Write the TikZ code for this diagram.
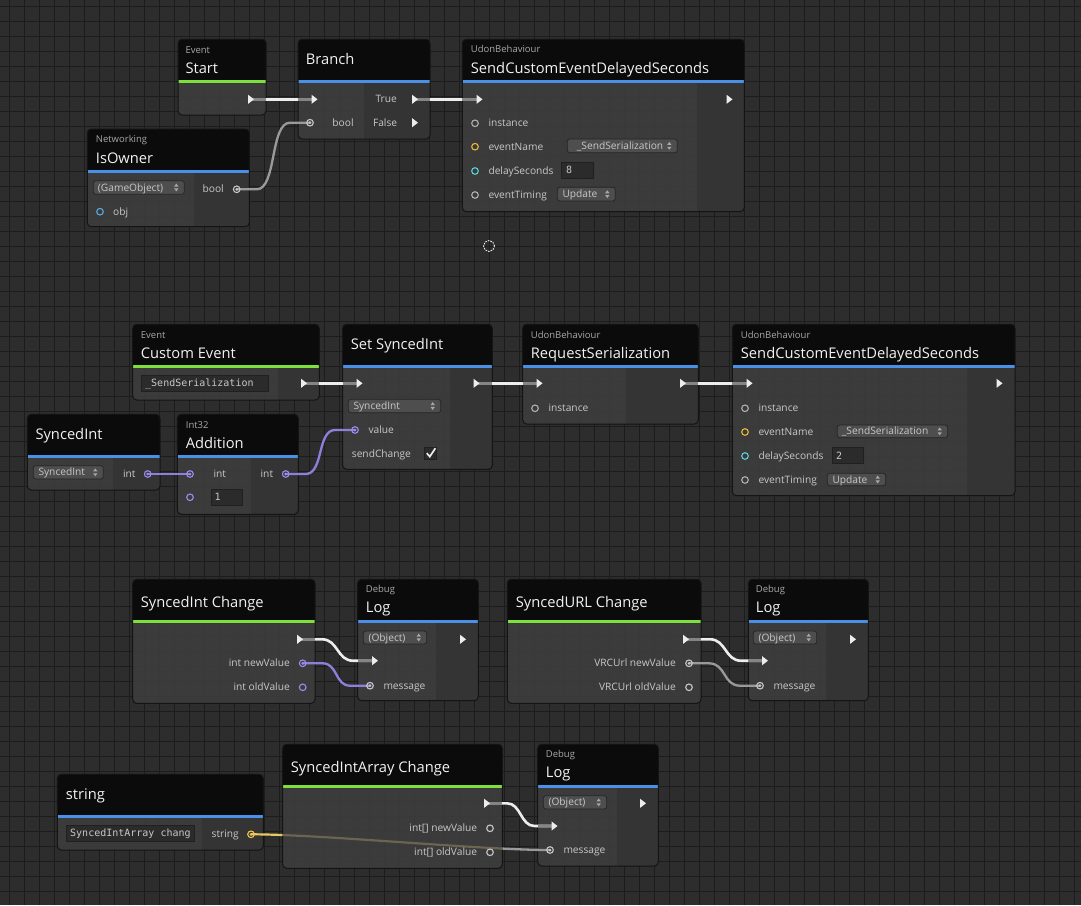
\documentclass[tikz,border=0pt]{standalone}
\usepackage{fontspec}
\setmainfont{Open Sans}
\newfontfamily\monof{DejaVu Sans Mono}
\usetikzlibrary{calc}
\definecolor{bgc}{HTML}{2D2D2D}
\definecolor{gridc}{HTML}{1C1C1C}
\definecolor{headc}{HTML}{0B0B0B}
\definecolor{bodyc}{HTML}{3D3D3D}
\definecolor{rightc}{HTML}{343434}
\definecolor{bordc}{HTML}{141414}
\definecolor{evgreen}{HTML}{7EE03C}
\definecolor{nodeblue}{HTML}{4A90E6}
\definecolor{titlec}{HTML}{F2F2F2}
\definecolor{subc}{HTML}{A8A8A8}
\definecolor{labc}{HTML}{C8C8C8}
\definecolor{flowc}{HTML}{EDEDED}
\definecolor{stubc}{HTML}{858585}
\definecolor{greyw}{HTML}{9A9A9A}
\definecolor{purw}{HTML}{8E80DA}
\definecolor{purp}{HTML}{9C8CF0}
\definecolor{yelp}{HTML}{F0C850}
\definecolor{orap}{HTML}{E8B838}
\definecolor{cyanp}{HTML}{5CCFD8}
\definecolor{bluep}{HTML}{5AA8E0}
\definecolor{greyp}{HTML}{B0B0B0}
\definecolor{whitep}{HTML}{C8C8C8}
\definecolor{ddfill}{HTML}{4E4E4E}
\definecolor{ddline}{HTML}{262626}
\definecolor{tffill}{HTML}{2B2B2B}
\definecolor{tfline}{HTML}{202020}
\definecolor{olivew}{HTML}{6B6450}
\definecolor{yelw}{HTML}{E8C860}
\newcount\autonum
\tikzset{
  autoname/.code={\global\advance\autonum by 1\relax\pgfkeysalso{name={t\the\autonum}}},
  ttl/.style={autoname, text=titlec, font=\fontsize{14.7}{16}\selectfont, inner sep=0pt, anchor=base west},
  sub/.style={autoname, text=subc, font=\fontsize{9.5}{11}\selectfont, inner sep=0pt, anchor=base west},
  lab/.style={autoname, text=labc, font=\fontsize{10.2}{12}\selectfont, inner sep=0pt, anchor=base west},
  labr/.style={lab, anchor=base east},
  tft/.style={autoname, text=labc, font=\monof\fontsize{10}{12}\selectfont, inner sep=0pt, anchor=base west},
  dd/.style={fill=ddfill, draw=ddline, line width=.8pt, rounded corners=2.5pt},
  tf/.style={fill=tffill, draw=tfline, line width=.8pt},
  flowwire/.style={draw=flowc, line width=2.6pt},
  stub/.style={draw=stubc, line width=2.6pt},
  gwire/.style={draw=greyw, line width=2.3pt},
  pwire/.style={draw=purw, line width=2.3pt},
  gridline/.style={draw=gridc, line width=1pt},
}
% node frame: name, x1, y1, x2, y2, bar top, split x, bar colour
\newcommand\unode[8]{%
  \node[inner sep=0pt, outer sep=0pt, minimum width=#4pt-#2pt, minimum height=#5pt-#3pt, anchor=north west] (#1) at (#2,#3) {};
  \begin{scope}
    \clip[rounded corners=4pt] (#2,#3) rectangle (#4,#5);
    \fill[bodyc, fill opacity=.9] (#2,#3) rectangle (#4,#5);
    \fill[rightc, fill opacity=.9] (#7,#6) rectangle (#4,#5);
    \fill[headc] (#2,#3) rectangle (#4,#6);
    \fill[#8] (#2,#6) rectangle (#4,{#6+2.7});
  \end{scope}
  \draw[rounded corners=4pt, bordc, line width=1pt] (#2,#3) rectangle (#4,#5);
}
\newcommand\ddown[6]{%
  \pgfmathsetmacro\ddcy{(#2+#4)/2}\pgfmathsetmacro\ddcx{#3-8}%
  \draw[dd] (#1,#2) rectangle (#3,#4);
  \node[lab] at (#5,\ddcy+3.6) {#6};
  \fill[subc] (\ddcx-2.2,\ddcy-0.9) -- (\ddcx+2.2,\ddcy-0.9) -- (\ddcx,\ddcy-3.9) -- cycle;
  \fill[subc] (\ddcx-2.2,\ddcy+0.9) -- (\ddcx+2.2,\ddcy+0.9) -- (\ddcx,\ddcy+3.9) -- cycle;
}
\newcommand\tfield[6]{%
  \pgfmathsetmacro\ddcy{(#2+#4)/2}%
  \draw[tf] (#1,#2) rectangle (#3,#4);
  \node[tft] at (#5,\ddcy+3.6) {#6};
}
\newcommand\pring[2]{\draw[draw=#2, line width=1.1pt] (#1) circle (3.3pt);}
\newcommand\pfull[2]{\pring{#1}{#2}\fill[#2] (#1) circle (1.5pt);}
\newcommand\ftri[1]{\fill[flowc] ($(#1)+(-3,-4.6)$) -- ($(#1)+(3,0)$) -- ($(#1)+(-3,4.6)$) -- cycle;}
% S-shaped wire: style, from, to, straight run at each end, control length
\newcommand\swire[5]{\draw[#1] (#2) -- ++(#4,0) .. controls +(#5,0) and +(-#5,0) .. ($(#3)+(-#4,0)$) -- (#3);}
\begin{document}
\begin{tikzpicture}[x=1pt,y=-1pt]
\useasboundingbox (0,0) rectangle (1081,905);
\fill[bgc] (0,0) rectangle (1081,905);
\foreach \i in {0,...,71} \draw[gridline] (9.3+15*\i,0) -- (9.3+15*\i,905);
\foreach \i in {0,...,59} \draw[gridline] (0,6.7+15*\i) -- (1081,6.7+15*\i);

% ---------- node frames ----------
\unode{start}{178}{39.3}{266}{115}{80}{266}{evgreen}
\unode{branch}{298}{39.3}{430}{139}{80}{364}{nodeblue}
\unode{isowner}{87.3}{129}{249.3}{226.7}{170}{194.3}{nodeblue}
\unode{sceds}{462.3}{39.3}{744.3}{211.7}{80}{697}{nodeblue}
\unode{cevent}{132.7}{324.3}{319.3}{400}{365}{277.7}{evgreen}
\unode{sint}{27.3}{414.3}{160}{490}{455}{113.3}{nodeblue}
\unode{add}{177.3}{414.3}{298.3}{514.3}{455}{251}{nodeblue}
\unode{setsi}{342.7}{324.3}{492.3}{469.3}{365}{450}{nodeblue}
\unode{reqser}{522.7}{324.3}{698.3}{424}{365}{626}{nodeblue}
\unode{scedsb}{732.3}{324.3}{1015}{495.7}{365}{967.3}{nodeblue}
\unode{sichg}{132.7}{579.3}{315}{703.3}{620}{315}{evgreen}
\unode{logA}{357.7}{579.3}{478.3}{700.7}{620}{436}{nodeblue}
\unode{urlchg}{507.3}{579.3}{701}{703.3}{620}{701}{evgreen}
\unode{logB}{748.3}{579.3}{868.3}{700.7}{620}{825.7}{nodeblue}
\unode{strn}{57.3}{774.3}{263.3}{850}{815}{202.3}{nodeblue}
\unode{siachg}{282.7}{744.3}{502.3}{868.3}{785}{502.3}{evgreen}
\unode{logC}{537.7}{744.3}{658.3}{866}{785}{616.7}{nodeblue}

% ---------- ports ----------
\coordinate (startOut) at (251,99.3);
\coordinate (branchIn) at (314.5,99.3);
\coordinate (branchTrue) at (415,99.3);
\coordinate (branchFalse) at (415,122.7);
\coordinate (branchBool) at (310,122.7);
\coordinate (ownerBool) at (236.7,189.3);
\coordinate (ownerObj) at (100,211.7);
\coordinate (scedsIn) at (479.5,99.3);
\coordinate (scedsOut) at (729.5,99.3);
\coordinate (sa1) at (475,123.3);
\coordinate (sa2) at (475,146.7);
\coordinate (sa3) at (475,171);
\coordinate (sa4) at (475,195);
\coordinate (ceOut) at (304,383.3);
\coordinate (setIn) at (359.5,383.3);
\coordinate (setOut) at (476.5,383.3);
\coordinate (setVal) at (355,430);
\coordinate (rsIn) at (539.5,383.3);
\coordinate (rsOut) at (683,383.3);
\coordinate (rsInst) at (535,408.3);
\coordinate (sbIn) at (749.5,383.3);
\coordinate (sbOut) at (999.5,383.3);
\coordinate (sb1) at (745,408.3);
\coordinate (sb2) at (745,432);
\coordinate (sb3) at (745,456);
\coordinate (sb4) at (745,480);
\coordinate (siOut) at (147.7,474);
\coordinate (addIn) at (190,474);
\coordinate (addIn2) at (190,497.3);
\coordinate (addOut) at (285.7,474);
\coordinate (sicOut) at (300,639.3);
\coordinate (sicNew) at (302.7,663.3);
\coordinate (sicOld) at (302.7,687.3);
\coordinate (laIn) at (375,660.7);
\coordinate (laOut) at (463,639.3);
\coordinate (laMsg) at (370,685.7);
\coordinate (ucOut) at (686,639.3);
\coordinate (ucNew) at (689,663.3);
\coordinate (ucOld) at (689,687.3);
\coordinate (lbIn) at (765,660.7);
\coordinate (lbOut) at (853,639.3);
\coordinate (lbMsg) at (760,685.7);
\coordinate (strOut) at (251,834.3);
\coordinate (sacOut) at (487,803.3);
\coordinate (sacNew) at (490,828.3);
\coordinate (sacOld) at (490,852.3);
\coordinate (lcIn) at (554.5,826);
\coordinate (lcOut) at (643,803.3);
\coordinate (lcMsg) at (550,850);

% ---------- wires ----------
\begin{scope}
  \clip (strn.north west) rectangle (siachg.south west);
  \draw[draw=yelw, line width=2.2pt] (strOut) .. controls +(70,0) and +(-70,0) .. (lcMsg);
\end{scope}
\begin{scope}
  \clip (siachg.north west) rectangle (siachg.south east);
  \draw[draw=olivew, line width=2.2pt] (strOut) .. controls +(70,0) and +(-70,0) .. (lcMsg);
\end{scope}
\begin{scope}
  \clip (siachg.north east) rectangle (logC.south east);
  \draw[gwire] (strOut) .. controls +(70,0) and +(-70,0) .. (lcMsg);
\end{scope}

\draw[flowwire] (startOut) -- (branchIn);
\draw[flowwire] (branchTrue) -- (scedsIn);
\draw[flowwire] (ceOut) -- (setIn);
\draw[flowwire] (setOut) -- (rsIn);
\draw[flowwire] (rsOut) -- (sbIn);
\swire{flowwire}{sicOut}{laIn}{22}{16}
\swire{flowwire}{ucOut}{lbIn}{24}{16}
\swire{flowwire}{sacOut}{lcIn}{20}{14}
\swire{gwire}{ownerBool}{branchBool}{20}{20}
\draw[pwire] (siOut) -- (addIn);
\swire{pwire}{addOut}{setVal}{20}{18}
\swire{pwire}{sicNew}{laMsg}{20}{15}
\swire{gwire}{ucNew}{lbMsg}{20}{17}

\draw[stub] (startOut) -- (startOut -| start.east);
\draw[stub] (branchIn -| branch.west) -- (branchIn);
\draw[stub] (branchTrue) -- (branchTrue -| branch.east);
\draw[stub] (scedsIn -| sceds.west) -- (scedsIn);
\draw[stub] (ceOut) -- (ceOut -| cevent.east);
\draw[stub] (setIn -| setsi.west) -- (setIn);
\draw[stub] (setOut) -- (setOut -| setsi.east);
\draw[stub] (rsIn -| reqser.west) -- (rsIn);
\draw[stub] (rsOut) -- (rsOut -| reqser.east);
\draw[stub] (sbIn -| scedsb.west) -- (sbIn);
\draw[stub] (sicOut) -- (sicOut -| sichg.east);
\draw[stub] (laIn -| logA.west) -- (laIn);
\draw[stub] (ucOut) -- (ucOut -| urlchg.east);
\draw[stub] (lbIn -| logB.west) -- (lbIn);
\draw[stub] (sacOut) -- (sacOut -| siachg.east);
\draw[stub] (lcIn -| logC.west) -- (lcIn);

% ---------- headers ----------
\node[sub] at (185.3,53.5) {Event};
\node[ttl] at (185.3,73.3) {Start};
\node[ttl] at (305.7,64.3) {Branch};
\node[sub] at (95.7,142.7) {Networking};
\node[ttl] at (95.7,163.3) {IsOwner};
\node[sub] at (470.7,52.7) {UdonBehaviour};
\node[ttl] at (470.7,73.3) {SendCustomEventDelayedSeconds};
\node[sub] at (140.7,338.3) {Event};
\node[ttl] at (140.7,358.3) {Custom Event};
\node[ttl] at (35.3,439.3) {SyncedInt};
\node[sub] at (185.7,428.3) {Int32};
\node[ttl] at (185.7,448.3) {Addition};
\node[ttl] at (350.7,349.3) {Set SyncedInt};
\node[sub] at (530.7,338) {UdonBehaviour};
\node[ttl] at (530.7,358.3) {RequestSerialization};
\node[sub] at (740.7,338) {UdonBehaviour};
\node[ttl] at (740.7,358.3) {SendCustomEventDelayedSeconds};
\node[ttl] at (140.7,607.7) {SyncedInt Change};
\node[sub] at (365.7,592.7) {Debug};
\node[ttl] at (365.7,612.7) {Log};
\node[ttl] at (515.7,607.7) {SyncedURL Change};
\node[sub] at (755.7,592.7) {Debug};
\node[ttl] at (755.7,612.7) {Log};
\node[ttl] at (65.7,799) {string};
\node[ttl] at (290.7,772.7) {SyncedIntArray Change};
\node[sub] at (545.7,757.7) {Debug};
\node[ttl] at (545.7,777.7) {Log};

% ---------- labels ----------
\node[lab, anchor=base] at (343,126.2) {bool};
\node[labr] at (397,102.8) {True};
\node[labr] at (397.3,126.2) {False};
\node[labr] at (224,192.8) {bool};
\node[lab] at (113,215.2) {obj};
\node[lab] at (488.3,126.8) {instance};
\node[lab] at (488.3,150.2) {eventName};
\node[lab] at (488.3,174.5) {delaySeconds};
\node[lab] at (488.3,198.5) {eventTiming};
\node[lab] at (548.3,411.8) {instance};
\node[lab] at (758.3,411.8) {instance};
\node[lab] at (758.3,435.5) {eventName};
\node[lab] at (758.3,459.5) {delaySeconds};
\node[lab] at (758.3,483.5) {eventTiming};
\node[labr] at (135.7,477.5) {int};
\node[lab] at (213.3,477.5) {int};
\node[labr] at (273.3,477.5) {int};
\node[lab] at (368.3,433.5) {value};
\node[lab] at (351.7,457.8) {sendChange};
\node[labr] at (290,666.8) {int newValue};
\node[labr] at (290,690.8) {int oldValue};
\node[lab] at (383.3,689.2) {message};
\node[labr] at (676,666.8) {VRCUrl newValue};
\node[labr] at (676,690.8) {VRCUrl oldValue};
\node[lab] at (773.3,689.2) {message};
\node[labr] at (239,837.8) {string};
\node[labr] at (477.3,831.8) {int[] newValue};
\node[labr] at (477.3,855.8) {int[] oldValue};
\node[lab] at (563.3,853.5) {message};

% ---------- widgets ----------
\ddown{93.3}{180.7}{184.3}{194.3}{97.7}{(GameObject)}
\ddown{567.3}{139}{677.3}{152.7}{576.7}{\_SendSerialization}
\ddown{557.3}{187.3}{615.3}{201}{562.3}{Update}
\ddown{837.3}{425}{947.7}{437.7}{841.7}{\_SendSerialization}
\ddown{827.3}{473.3}{885.7}{485.7}{832.3}{Update}
\ddown{33.3}{465.7}{103.3}{479}{38.3}{SyncedInt}
\ddown{348.3}{399.3}{440.7}{412.7}{353.3}{SyncedInt}
\ddown{363.3}{631}{426.7}{644}{368.3}{(Object)}
\ddown{753.3}{631}{816.7}{644}{758.3}{(Object)}
\ddown{543.3}{795.7}{606.7}{809}{548.3}{(Object)}
\tfield{561.7}{162.3}{593.3}{178.3}{566}{8}
\tfield{832.3}{447.7}{863.3}{463.3}{836}{2}
\tfield{211}{489.3}{242.7}{505.3}{214.3}{1}
\tfield{141.7}{375.7}{268.7}{391}{145}{\_SendSerialization}
\tfield{66}{825}{194}{841.7}{70}{SyncedIntArray chang}
\draw[tf] (424.3,447.3) rectangle (436.7,459.3);
\draw[flowc, line width=1.7pt] (426.8,453.2) -- (429.8,456.6) -- (435.4,448.2);

% ---------- port circles ----------
\pfull{branchBool}{whitep}
\pfull{ownerBool}{whitep}
\pring{ownerObj}{bluep}
\pring{sa1}{greyp}
\pring{sa2}{orap}
\pring{sa3}{cyanp}
\pring{sa4}{greyp}
\pring{rsInst}{greyp}
\pring{sb1}{greyp}
\pring{sb2}{orap}
\pring{sb3}{cyanp}
\pring{sb4}{greyp}
\pfull{siOut}{purp}
\pfull{addIn}{purp}
\pring{addIn2}{purp}
\pfull{addOut}{purp}
\pfull{setVal}{purp}
\pfull{sicNew}{purp}
\pring{sicOld}{purp}
\pfull{laMsg}{whitep}
\pfull{ucNew}{whitep}
\pring{ucOld}{whitep}
\pfull{lbMsg}{whitep}
\pfull{strOut}{yelp}
\pring{sacNew}{whitep}
\pring{sacOld}{whitep}
\pfull{lcMsg}{whitep}

% ---------- flow triangles ----------
\foreach \p in {startOut,branchIn,branchTrue,branchFalse,scedsIn,scedsOut,ceOut,setIn,setOut,rsIn,rsOut,sbIn,sbOut,sicOut,laIn,laOut,ucOut,lbIn,lbOut,sacOut,lcIn,lcOut} {\ftri{\p}}

% cursor
\draw[flowc, line width=0.9pt, dash pattern=on 1.6pt off 1.1pt] (489,246) circle (5.5pt);
\end{tikzpicture}
\end{document}
